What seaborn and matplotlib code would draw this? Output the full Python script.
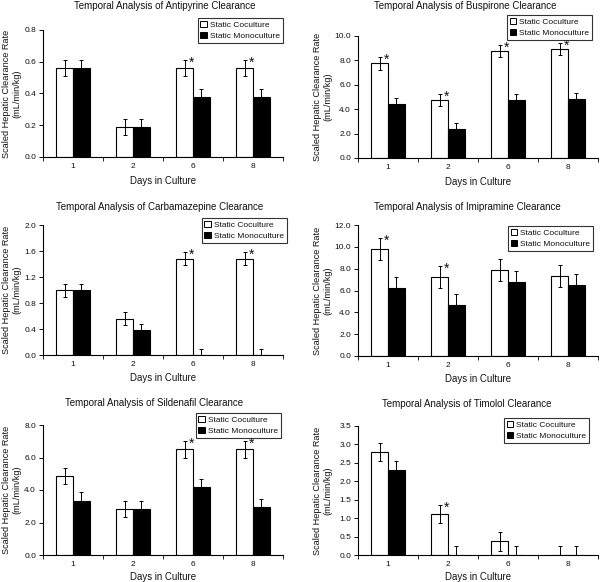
import matplotlib
matplotlib.use('Agg')
import matplotlib.pyplot as plt
import seaborn as sns
import pandas as pd
from matplotlib.patches import Patch
from matplotlib.ticker import FormatStrFormatter, FixedLocator, MultipleLocator

sns.set_style('ticks')
plt.rcParams['font.family'] = ['Liberation Sans', 'DejaVu Sans']

days = ['1', '2', '6', '8']
groups = ['Static Coculture', 'Static Monoculture']

antipyrine_co = [0.56, 0.19, 0.56, 0.56]
antipyrine_mono = [0.56, 0.19, 0.38, 0.38]
antipyrine_err_co = [0.05, 0.05, 0.05, 0.05]
antipyrine_err_mono = [0.05, 0.05, 0.05, 0.05]
antipyrine_star = [False, False, True, True]

buspirone_co = [7.75, 4.75, 8.75, 8.95]
buspirone_mono = [4.4, 2.4, 4.75, 4.8]
buspirone_err_co = [0.5, 0.5, 0.5, 0.5]
buspirone_err_mono = [0.5, 0.5, 0.5, 0.5]
buspirone_star = [True, True, True, True]

carbamazepine_co = [1.0, 0.56, 1.48, 1.48]
carbamazepine_mono = [1.0, 0.38, 0.0, 0.0]
carbamazepine_err_co = [0.1, 0.1, 0.1, 0.1]
carbamazepine_err_mono = [0.1, 0.1, 0.1, 0.1]
carbamazepine_star = [False, False, True, True]

imipramine_co = [9.8, 7.2, 7.9, 7.3]
imipramine_mono = [6.2, 4.7, 6.8, 6.5]
imipramine_err_co = [1.0, 1.0, 1.0, 1.0]
imipramine_err_mono = [1.0, 1.0, 1.0, 1.0]
imipramine_star = [True, True, False, False]

sildenafil_co = [4.85, 2.85, 6.5, 6.5]
sildenafil_mono = [3.35, 2.85, 4.2, 2.95]
sildenafil_err_co = [0.5, 0.5, 0.5, 0.5]
sildenafil_err_mono = [0.5, 0.5, 0.5, 0.5]
sildenafil_star = [False, False, True, True]

timolol_co = [2.8, 1.12, 0.37, 0.0]
timolol_mono = [2.3, 0.0, 0.0, 0.0]
timolol_err_co = [0.25, 0.25, 0.25, 0.25]
timolol_err_mono = [0.25, 0.25, 0.25, 0.25]
timolol_star = [False, True, False, False]

panels = [
    dict(name='Antipyrine', co=antipyrine_co, mono=antipyrine_mono, eco=antipyrine_err_co,
         emono=antipyrine_err_mono, star=antipyrine_star, ymax=0.8, ystep=0.2,
         box=(43, 283, 30, 157), title=(165, 6), leg=(283, 18), ylab=21, xpad=5.0),
    dict(name='Buspirone', co=buspirone_co, mono=buspirone_mono, eco=buspirone_err_co,
         emono=buspirone_err_mono, star=buspirone_star, ymax=10.0, ystep=2.0,
         box=(358, 598, 36, 158), title=(465, 6), leg=(592, 15), ylab=332, xpad=5.0),
    dict(name='Carbamazepine', co=carbamazepine_co, mono=carbamazepine_mono, eco=carbamazepine_err_co,
         emono=carbamazepine_err_mono, star=carbamazepine_star, ymax=2.0, ystep=0.4,
         box=(43, 283, 225, 355), title=(160, 207), leg=(287, 218), ylab=21, xpad=4.0),
    dict(name='Imipramine', co=imipramine_co, mono=imipramine_mono, eco=imipramine_err_co,
         emono=imipramine_err_mono, star=imipramine_star, ymax=12.0, ystep=2.0,
         box=(358, 598, 225, 356), title=(467, 207), leg=(593, 226), ylab=332, xpad=4.0),
    dict(name='Sildenafil', co=sildenafil_co, mono=sildenafil_mono, eco=sildenafil_err_co,
         emono=sildenafil_err_mono, star=sildenafil_star, ymax=8.0, ystep=2.0,
         box=(43, 283, 425, 555), title=(154, 403), leg=(281, 413), ylab=21, xpad=3.0),
    dict(name='Timolol', co=timolol_co, mono=timolol_mono, eco=timolol_err_co,
         emono=timolol_err_mono, star=timolol_star, ymax=3.5, ystep=0.5,
         box=(358, 598, 426, 555), title=(467, 404), leg=(589, 418), ylab=332, xpad=3.0),
]

W, H = 600, 582
fig = plt.figure(figsize=(W / 100, H / 100), dpi=100)
TICK_FS = 6.0
LAB_FS = 6.6
TXT = '#111111'

for p in panels:
    l, r, t, b = p['box']
    ax = fig.add_axes([l / W, 1 - b / H, (r - l) / W, (b - t) / H])
    df = pd.DataFrame({
        'day': days * 2,
        'val': p['co'] + p['mono'],
        'culture': [groups[0]] * 4 + [groups[1]] * 4,
    })
    sns.barplot(data=df, x='day', y='val', hue='culture', order=days, hue_order=groups,
                palette=['white', 'black'], edgecolor='black', linewidth=0.8,
                width=0.56, gap=0, errorbar=None, ax=ax, legend=False, zorder=2)
    errs = [p['eco'], p['emono']]
    bar_conts = list(ax.containers)
    for hi, cont in enumerate(bar_conts):
        for i, bar in enumerate(cont.patches):
            xc = bar.get_x() + bar.get_width() / 2
            v = bar.get_height()
            e = errs[hi][i]
            ax.errorbar(xc, v, yerr=e, fmt='none', ecolor='black', elinewidth=0.7,
                        capsize=1.6, capthick=0.7, zorder=3)
            if hi == 0 and p['star'][i]:
                ax.annotate('*', xy=(xc, v + e), xytext=(5.0, -2.0),
                            textcoords='offset points', fontsize=10, ha='center',
                            va='center', color=TXT, zorder=4)
    ax.set_ylim(0, p['ymax'])
    ax.set_xlim(-0.5, 3.5)
    ax.yaxis.set_major_locator(MultipleLocator(p['ystep']))
    ax.yaxis.set_major_formatter(FormatStrFormatter('%.1f'))
    ax.xaxis.set_minor_locator(FixedLocator([-0.5, 0.5, 1.5, 2.5, 3.5]))
    ax.tick_params(axis='x', which='major', length=0, labelsize=TICK_FS, pad=4, colors=TXT)
    ax.tick_params(axis='x', which='minor', length=3, width=0.7, direction='out')
    ax.tick_params(axis='y', which='major', length=3, width=0.7, labelsize=TICK_FS, pad=2,
                   colors=TXT)
    for s in ['top', 'right']:
        ax.spines[s].set_visible(False)
    for s in ['left', 'bottom']:
        ax.spines[s].set_linewidth(0.8)
        ax.spines[s].set_color('black')
    ax.set_xlabel('Days in Culture', fontsize=6.9, labelpad=p['xpad'], color=TXT)
    ax.set_ylabel('Scaled Hepatic Clearance Rate\n(mL/min/kg)', fontsize=LAB_FS,
                  color=TXT, linespacing=1.1)
    ax.yaxis.set_label_coords((p['ylab'] - l) / (r - l), 0.5)
    tx, ty = p['title']
    fig.text(tx / W, 1 - ty / H, 'Temporal Analysis of %s Clearance' % p['name'],
             fontsize=7.0, ha='center', va='center', color=TXT)
    handles = [Patch(facecolor='white', edgecolor='black', linewidth=0.7, label=groups[0]),
               Patch(facecolor='black', edgecolor='black', linewidth=0.7, label=groups[1])]
    lx, ly = p['leg']
    leg = ax.legend(handles=handles, loc='upper right', bbox_to_anchor=(lx / W, 1 - ly / H),
                    bbox_transform=fig.transFigure, fontsize=6, frameon=True, fancybox=False,
                    handlelength=0.75, handleheight=0.75, handletextpad=0.4,
                    borderpad=0.35, labelspacing=0.35, borderaxespad=0)
    leg.get_frame().set_edgecolor('black')
    leg.get_frame().set_linewidth(0.8)
    for tx_ in leg.get_texts():
        tx_.set_color(TXT)

fig.savefig('out.png', dpi=100, facecolor='white')
